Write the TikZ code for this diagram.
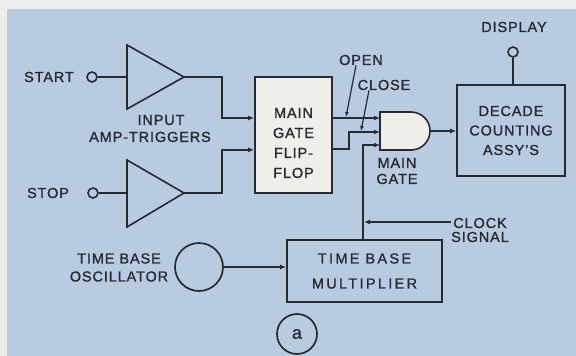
\documentclass[tikz,border=0pt]{standalone}
\usepackage{fontspec}
\setmainfont[LetterSpace=6,FakeBold=1.2]{Liberation Sans}
\usetikzlibrary{arrows.meta,positioning,calc}
\definecolor{ink}{HTML}{262A32}
\definecolor{panel}{HTML}{B9CBE0}
\definecolor{frame}{HTML}{EDEDEB}
\definecolor{paper}{HTML}{EFEEE9}
\tikzset{
  lbl/.style={align=center,font=\fontsize{14.5}{19}\selectfont,text=ink,inner sep=0pt},
  blk/.style={draw=ink,line width=1.7pt,inner sep=0pt},
  blkf/.style={blk,fill=paper},
  term/.style={circle,draw=ink,line width=1.6pt,minimum size=10pt,inner sep=0pt},
  wire/.style={draw=ink,line width=1.6pt},
  ar/.style={wire,-{Latex[length=6pt,width=5pt]}},
  ptr/.style={draw=ink,line width=1.2pt,-{Latex[length=5pt,width=4pt]}},
}

\begin{document}
\begin{tikzpicture}[x=1pt,y=-1pt]
  \useasboundingbox (0,0) rectangle (576,356);
  % ── panel ──
  \fill[frame] (0,0) rectangle (576,356);
  \fill[panel] (7,9) rectangle (576,356);
  % ── input amplifiers ──
  \node[lbl] (start) at (49,77) {START};
  \node[term] (tstart) at (92,77) {};
  \coordinate (ampa) at (127,77); \coordinate (ampatip) at (184,77);
  \draw[wire] ($(ampa)+(0,-32)$) -- (ampatip) -- ($(ampa)+(0,32)$) -- cycle;
  \draw[wire] (tstart) -- (ampa);
  \node[lbl] (stop) at (48,193) {STOP};
  \node[term] (tstop) at (93,193) {};
  \coordinate (ampb) at (127,193); \coordinate (ampbtip) at (184,193);
  \draw[wire] ($(ampb)+(0,-33)$) -- (ampbtip) -- ($(ampb)+(0,34)$) -- cycle;
  \draw[wire] (tstop) -- (ampb);
  \node[lbl,font=\fontsize{14.5}{17}\selectfont] (amplbl) at (150,128.5) {\hspace*{22pt}INPUT\\AMP-TRIGGERS};
  % ── flip-flop and gate ──
  \node[blkf,minimum width=77pt,minimum height=116pt] (ff) at (293.5,135) {};
  \node[lbl,font=\fontsize{14.5}{20}\selectfont] (fflbl) at (293.5,143) {MAIN\\GATE\\FLIP-\\FLOP};
  \coordinate (gate) at (380,131);
  \coordinate (gin1) at (380,118); \coordinate (gin2) at (380,132);
  \coordinate (gin3) at (380,145); \coordinate (gout) at (430,131);
  \draw[wire,fill=paper] (gate) ++(0,-19) -- ++(31,0) arc[start angle=-90,end angle=90,radius=19] -- ++(-31,0) -- cycle;
  \node[lbl,font=\fontsize{14.5}{16}\selectfont] (gatelbl) at (397,171) {MAIN\\GATE};
  \draw[ar] (ampatip) -- ++(38,0) |- (ff.west |- gin1);
  \draw[ar] (ampbtip) -- ++(38,0) |- ($(ff.south west)+(0,-44)$);
  \draw[ar] (ff.east |- gin1) -- (gin1);
  \draw[ar] ($(ff.south east)+(0,-45)$) -- ++(16,0) |- (gin2);
  \node[lbl] (open) at (361,60) {OPEN};
  \coordinate (opentip) at (346,117);
  \draw[ptr] ([xshift=-5pt]open.south) -- (opentip);
  \node[lbl] (close) at (384,85) {CLOSE};
  \coordinate (closetip) at (361,131);
  \draw[ptr] ([xshift=-15pt]close.south) -- (closetip);
  % ── counting ──
  \node[blk,lbl,minimum width=108pt,minimum height=91pt,font=\fontsize{14.5}{19.5}\selectfont] (dec) at (511,130.5) {DECADE\\COUNTING\\ASSY'S};
  \draw[ar] (gout) -- (dec.west |- gout);
  \node[lbl] (disp) at (514,27) {DISPLAY};
  \node[term] (tdisp) at (513,52) {};
  \draw[wire] (tdisp) -- (tdisp |- dec.north);
  % ── time base ──
  \node[blk,lbl,minimum width=155pt,minimum height=62pt,font={\fontsize{14.5}{25}\selectfont\addfontfeature{LetterSpace=16}}] (mult) at (364.5,271) {TIME\hspace{6pt}BASE\\MULTIPLIER};
  \node[blk,circle,minimum size=48pt] (osc) at (199,267) {};
  \node[lbl,font=\fontsize{14.5}{18}\selectfont] (osclbl) at (119,267.5) {TIME\hspace{5pt}BASE\\OSCILLATOR};
  \draw[ar] (osc) -- (mult.west |- osc);
  \draw[ar] ([xshift=-1.5pt]mult.north) |- (gin3);
  \node[lbl,font=\fontsize{14.5}{14}\selectfont] (clock) at (480,230) {CLOCK\\SIGNAL};
  \coordinate (clockend) at (451,222); \coordinate (clockin) at (364,222);
  \draw[ar] (clockend) -- (clockin);
  \node[blk,lbl,circle,minimum size=40pt,font=\fontsize{18}{18}\selectfont] (fig) at (297,334) {a};
\end{tikzpicture}
\end{document}
